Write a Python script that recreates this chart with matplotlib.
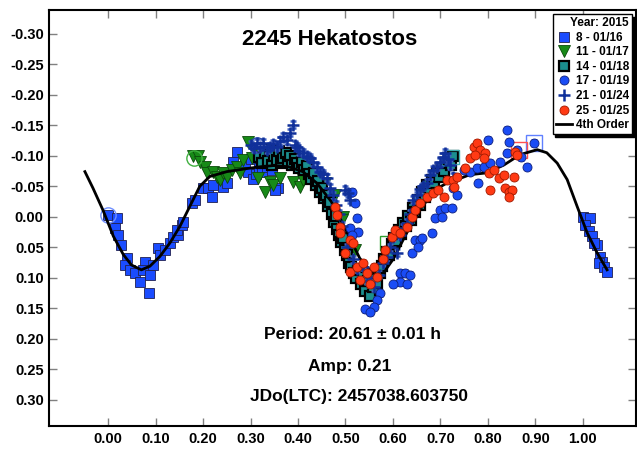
import matplotlib
matplotlib.use("Agg")
import matplotlib.pyplot as plt
from matplotlib.ticker import FormatStrFormatter

plt.rcParams['font.family'] = ['Liberation Sans', 'DejaVu Sans']
plt.rcParams['font.weight'] = 'bold'
plt.rcParams['axes.unicode_minus'] = False

# --- lightcurve data (phase, reduced magnitude) per session ---
s8_phase = [0.000, 0.018, 0.014, 0.021, 0.028, 0.039, 0.035, 0.046, 0.056, 0.067,
            0.077, 0.073, 0.088, 0.086, 0.094, 0.105, 0.109, 0.120, 0.130, 0.136,
            0.147, 0.145, 0.155, 0.158, 0.176, 0.183, 0.200, 0.210, 0.218, 0.221,
            0.242, 0.250, 0.263, 0.271, 0.288, 0.294, 0.300, 0.305, 0.312, 0.318,
            0.324, 0.334, 0.345, 0.358, 0.351,
            1.000, 1.015, 1.005, 1.013, 1.020, 1.030, 1.024, 1.036, 1.040, 1.035,
            1.044, 1.051]
s8_mag = [-0.003, 0.002, 0.018, 0.030, 0.046, 0.067, 0.079, 0.087, 0.092, 0.107,
          0.074, 0.087, 0.095, 0.125, 0.079, 0.051, 0.062, 0.054, 0.043, 0.033,
          0.030, 0.021, 0.013, 0.008, -0.023, -0.028, -0.048, -0.048, -0.033, -0.052,
          -0.049, -0.056, -0.089, -0.107, -0.085, -0.074, -0.095, -0.062, -0.070, -0.080,
          -0.074, -0.082, -0.077, -0.048, -0.044,
          0.000, 0.002, 0.013, 0.024, 0.032, 0.046, 0.043, 0.066, 0.074, 0.076,
          0.082, 0.090]

s11_phase = [0.179, 0.189, 0.193, 0.204, 0.208, 0.221, 0.229, 0.235, 0.242, 0.250,
             0.260, 0.271, 0.277, 0.284, 0.295, 0.302, 0.313, 0.316, 0.330, 0.341,
             0.348, 0.362, 0.390, 0.404, 0.410, 0.457, 0.478, 0.495, 0.492, 0.510,
             0.520, 0.545]
s11_mag = [-0.099, -0.099, -0.090, -0.082, -0.072, -0.074, -0.066, -0.061, -0.072, -0.066,
           -0.077, -0.082, -0.072, -0.093, -0.123, -0.097, -0.102, -0.064, -0.041, -0.057,
           -0.052, -0.064, -0.057, -0.049, -0.061, -0.056, -0.036, 0.000, 0.005, 0.038,
           0.054, 0.111]

s14_phase = [0.318, 0.325, 0.330, 0.336, 0.341, 0.346, 0.350, 0.355, 0.360, 0.364,
             0.369, 0.374, 0.378, 0.383, 0.388, 0.393, 0.398, 0.403, 0.408, 0.413,
             0.418, 0.423, 0.428, 0.433, 0.438, 0.443, 0.447, 0.451, 0.455, 0.459,
             0.463, 0.467, 0.471, 0.475, 0.479, 0.483, 0.487, 0.491, 0.495, 0.499,
             0.503, 0.507, 0.512, 0.517, 0.522, 0.527, 0.532, 0.537, 0.542, 0.547,
             0.552, 0.557, 0.562, 0.567, 0.572, 0.577, 0.582, 0.587, 0.592, 0.597,
             0.602, 0.607, 0.612, 0.617, 0.622, 0.627, 0.632, 0.637, 0.642, 0.647,
             0.652, 0.657, 0.662, 0.667, 0.672, 0.677, 0.682, 0.687, 0.692, 0.697,
             0.702, 0.707, 0.712, 0.717, 0.722, 0.727]
s14_mag = [-0.098, -0.088, -0.105, -0.092, -0.110, -0.085, -0.100, -0.093, -0.108, -0.088,
           -0.097, -0.104, -0.090, -0.099, -0.085, -0.095, -0.088, -0.080, -0.090, -0.076,
           -0.083, -0.070, -0.062, -0.071, -0.052, -0.058, -0.040, -0.047, -0.030, -0.036,
           -0.018, -0.024, -0.005, 0.008, -0.002, 0.020, 0.030, 0.042, 0.034, 0.055,
           0.063, 0.075, 0.082, 0.092, 0.100, 0.088, 0.110, 0.098, 0.122, 0.105,
           0.130, 0.115, 0.100, 0.108, 0.092, 0.080, 0.070, 0.058, 0.062, 0.045,
           0.035, 0.040, 0.022, 0.028, 0.010, 0.015, -0.002, 0.005, -0.015, -0.008,
           -0.028, -0.020, -0.040, -0.032, -0.052, -0.045, -0.060, -0.055, -0.072, -0.065,
           -0.080, -0.075, -0.088, -0.095, -0.085, -0.100]

s17_phase = [0.513, 0.520, 0.524, 0.510, 0.527, 0.513, 0.640, 0.647, 0.657, 0.653,
             0.682, 0.615, 0.625, 0.636, 0.615, 0.629, 0.600, 0.573, 0.566, 0.559,
             0.541, 0.552, 0.689, 0.699, 0.703, 0.710, 0.724, 0.727, 0.735, 0.661,
             0.750, 0.762, 0.777, 0.792, 0.780, 0.804, 0.825, 0.840, 0.800, 0.844,
             0.840, 0.862, 0.882, 0.897, 0.870]
s17_mag = [-0.041, -0.023, 0.002, 0.018, 0.025, 0.030, 0.059, 0.038, 0.038, 0.049,
           0.026, 0.092, 0.092, 0.095, 0.107, 0.111, 0.111, 0.125, 0.136, 0.148,
           0.152, 0.156, 0.002, -0.011, 0.000, -0.015, -0.015, -0.048, -0.036, 0.034,
           -0.077, -0.074, -0.080, -0.082, -0.056, -0.088, -0.090, -0.143, -0.126, -0.123,
           -0.105, -0.110, -0.082, -0.121, -0.098]

s21_phase = [0.300, 0.307, 0.313, 0.320, 0.327, 0.334, 0.341, 0.348, 0.355, 0.362,
             0.369, 0.376, 0.383, 0.390, 0.394, 0.397, 0.403, 0.410, 0.418, 0.425,
             0.432, 0.439, 0.446, 0.453, 0.461, 0.467, 0.474, 0.480, 0.486, 0.492,
             0.499, 0.505, 0.510, 0.503, 0.515, 0.525, 0.537, 0.545, 0.552, 0.560,
             0.570, 0.580, 0.587, 0.594, 0.600, 0.608, 0.615, 0.622, 0.629, 0.636,
             0.642, 0.650, 0.657, 0.664, 0.671, 0.678, 0.685, 0.692, 0.699, 0.706,
             0.710, 0.715, 0.720, 0.727]
s21_mag = [-0.118, -0.112, -0.121, -0.115, -0.121, -0.110, -0.115, -0.120, -0.115, -0.124,
           -0.131, -0.126, -0.138, -0.151, -0.118, -0.115, -0.108, -0.105, -0.100, -0.097,
           -0.090, -0.082, -0.074, -0.070, -0.064, -0.048, -0.035, -0.020, -0.005, 0.015,
           -0.044, -0.039, -0.028, 0.050, 0.070, 0.085, 0.082, 0.105, 0.098, 0.115,
           0.095, 0.075, 0.066, 0.050, 0.033, 0.059, 0.030, 0.018, 0.010, -0.005,
           -0.028, -0.035, -0.045, -0.050, -0.056, -0.068, -0.077, -0.082, -0.090, -0.098,
           -0.105, -0.095, -0.085, -0.066]

s25_phase = [0.478, 0.482, 0.489, 0.489, 0.510, 0.516, 0.510, 0.524, 0.531, 0.545,
             0.559, 0.566, 0.580, 0.584, 0.597, 0.604, 0.615, 0.629, 0.640, 0.647,
             0.657, 0.671, 0.685, 0.695, 0.708, 0.713, 0.727, 0.729, 0.735, 0.752,
             0.762, 0.771, 0.777, 0.784, 0.773, 0.794, 0.792, 0.803, 0.805, 0.813,
             0.823, 0.834, 0.836, 0.844, 0.851, 0.844, 0.855, 0.858, 0.862, 0.500,
             0.537, 0.552]
s25_mag = [-0.016, -0.003, 0.016, 0.026, 0.038, 0.043, 0.090, 0.082, 0.103, 0.092,
           0.082, 0.098, 0.070, 0.054, 0.033, 0.021, 0.026, 0.016, 0.000, -0.011,
           -0.023, -0.033, -0.039, -0.044, -0.033, -0.061, -0.061, -0.049, -0.066, -0.080,
           -0.097, -0.115, -0.121, -0.110, -0.102, -0.105, -0.097, -0.072, -0.044, -0.077,
           -0.064, -0.069, -0.048, -0.041, -0.044, -0.033, -0.066, -0.107, -0.102, 0.060,
           0.075, 0.110]

# points left out of the fit
ex8_phase, ex8_mag = [0.000], [-0.003]
ex11_phase, ex11_mag = [0.180, 0.587], [-0.096, 0.043]
ex14_phase, ex14_mag = [0.724], [-0.098]
ex17_phase, ex17_mag = [0.897], [-0.121]
ex21_phase, ex21_mag = [0.313], [-0.118]
ex25_phase, ex25_mag = [0.866], [-0.110]

# 4th order Fourier fit
fit_phase = [-0.049, -0.032, -0.011, 0.011, 0.032, 0.049, 0.070, 0.088, 0.109, 0.130,
             0.151, 0.172, 0.193, 0.214, 0.250, 0.292, 0.320, 0.350, 0.380, 0.410,
             0.440, 0.470, 0.500, 0.530, 0.560, 0.580, 0.600, 0.630, 0.660, 0.690,
             0.720, 0.735, 0.762, 0.798, 0.834, 0.868, 0.904, 0.924, 0.946, 0.967,
             0.988, 1.009, 1.030, 1.051]
fit_mag = [-0.074, -0.047, -0.011, 0.032, 0.062, 0.079, 0.087, 0.081, 0.065, 0.043,
           0.016, -0.017, -0.050, -0.066, -0.074, -0.079, -0.082, -0.084, -0.082, -0.074,
           -0.055, -0.025, 0.020, 0.068, 0.095, 0.092, 0.070, 0.025, -0.015, -0.045,
           -0.058, -0.061, -0.069, -0.072, -0.085, -0.102, -0.110, -0.105, -0.088, -0.061,
           -0.017, 0.026, 0.059, 0.087]

mag_err = 0.006

xticks = [0.0, 0.1, 0.2, 0.3, 0.4, 0.5, 0.6, 0.7, 0.8, 0.9, 1.0]
yticks = [-0.30, -0.25, -0.20, -0.15, -0.10, -0.05, 0.0, 0.05, 0.10, 0.15, 0.20, 0.25, 0.30]

fig = plt.figure(figsize=(6.37, 4.49), dpi=100)
ax = fig.add_axes([49.3 / 637, 23 / 449, (636 - 49.3) / 637, 416 / 449])

handles = []

h, = ax.plot(s8_phase, s8_mag, 's', ms=7, mfc='#1a4cff', mec='#202050', mew=0.6, ls='none')
ax.plot(ex8_phase, ex8_mag, 'o', ms=11, mfc='none', mec='#7090ff', mew=1)
handles.append(h)

h, = ax.plot(s11_phase, s11_mag, 'v', ms=8, mfc='#178a17', mec='#0b4a0b', mew=0.6, ls='none')
ax.plot(ex11_phase[:1], ex11_mag[:1], 'o', ms=11, mfc='none', mec='#40b040', mew=1)
ax.plot(ex11_phase[1:], ex11_mag[1:], 's', ms=10, mfc='none', mec='#30a030', mew=1)
handles.append(h)

h, = ax.plot(s14_phase, s14_mag, 's', ms=7, mfc='#1b8f8f', mec='black', mew=1.6, ls='none')
ax.plot(ex14_phase, ex14_mag, 's', ms=10, mfc='none', mec='#40b0b0', mew=1)
handles.append(h)

c = ax.errorbar(s17_phase, s17_mag, yerr=mag_err, fmt='o', ms=6.5, mfc='#1a4cf5', mec='#10207a',
                mew=0.6, ecolor='#5a7aff', elinewidth=1, capsize=2.5)
ax.plot(ex17_phase, ex17_mag, 's', ms=11, mfc='none', mec='#6080ff', mew=1)
handles.append(c[0])

c = ax.errorbar(s21_phase, s21_mag, yerr=mag_err, fmt='+', ms=8.5, mew=1.8, color='#10309a',
                ecolor='#4060c0', elinewidth=1, capsize=2.5)
ax.plot(ex21_phase, ex21_mag, 'o', ms=11, mfc='none', mec='#3050b0', mew=1)
handles.append(c[0])

c = ax.errorbar(s25_phase, s25_mag, yerr=mag_err, fmt='o', ms=6.5, mfc='#ff3a14', mec='#a01a00',
                mew=0.6, ecolor='#ff8a7a', elinewidth=1, capsize=2.5)
ax.plot(ex25_phase, ex25_mag, 's', ms=11, mfc='none', mec='#ff5050', mew=1)
handles.append(c[0])

h, = ax.plot(fit_phase, fit_mag, '-', color='black', lw=2)
handles.append(h)

labels = ['8 - 01/16', '11 - 01/17', '14 - 01/18', '17 - 01/19',
          '21 - 01/24', '25 - 01/25', '4th Order']

ax.set_xlim(-0.124, 1.112)
ax.set_ylim(0.343, -0.339)
ax.set_xticks(xticks)
ax.set_yticks(yticks)
ax.xaxis.set_major_formatter(FormatStrFormatter('%.2f'))
ax.yaxis.set_major_formatter(FormatStrFormatter('%.2f'))
ax.tick_params(direction='in', length=6, width=1, color='#808080',
               top=True, right=True, labelsize=10.5, pad=4)
for lab in ax.get_xticklabels() + ax.get_yticklabels():
    lab.set_fontweight('bold')
for sp in ax.spines.values():
    sp.set_linewidth(1.5)
    sp.set_color('black')

ax.text(0.478, 0.928, '2245 Hekatostos', transform=ax.transAxes,
        ha='center', va='center', fontsize=16, fontweight='bold')
ax.text(0.516, 0.219, 'Period: 20.61 \u00b1 0.01 h', transform=ax.transAxes,
        ha='center', va='center', fontsize=12.5, fontweight='bold')
ax.text(0.5125, 0.144, 'Amp: 0.21', transform=ax.transAxes,
        ha='center', va='center', fontsize=12.5, fontweight='bold')
ax.text(0.528, 0.070, 'JDo(LTC): 2457038.603750', transform=ax.transAxes,
        ha='center', va='center', fontsize=12.5, fontweight='bold')

leg = ax.legend(handles, labels, title='Year: 2015', loc='upper right',
                prop={'size': 8.5, 'weight': 'bold'},
                title_fontproperties={'size': 8.5, 'weight': 'bold'},
                frameon=True, fancybox=False, edgecolor='black', framealpha=1,
                shadow={'color': 'black', 'alpha': 1},
                borderaxespad=0.35, handlelength=1.4, handletextpad=0.3,
                labelspacing=0.22, borderpad=0.25, alignment='right')
leg.get_frame().set_linewidth(1.0)

fig.savefig('out.png', dpi=100)
